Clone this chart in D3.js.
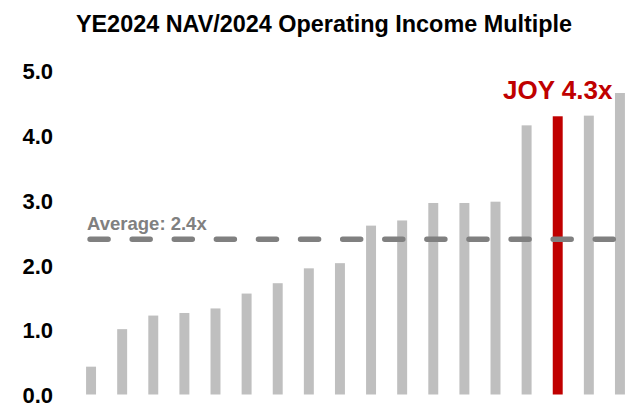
<!DOCTYPE html>
<html>
<head>
<meta charset="utf-8">
<script src="https://cdn.jsdelivr.net/npm/d3@7"></script>
<style>
  html, body { margin: 0; padding: 0; background: #fff; }
  svg { display: block; font-family: "Liberation Sans", Arial, sans-serif; }
</style>
</head>
<body>
<div id="chart"></div>
<script>
// Peer multiples, sorted ascending; JOY is the highlighted bar.
const CATEGORIES = [
  "Peer 1", "Peer 2", "Peer 3", "Peer 4", "Peer 5", "Peer 6", "Peer 7", "Peer 8", "Peer 9",
  "Peer 10", "Peer 11", "Peer 12", "Peer 13", "Peer 14", "Peer 15", "JOY", "Peer 16", "Peer 17",
];
const VALUES = [
  0.43, 1.01, 1.22, 1.26, 1.33, 1.56, 1.72, 1.95, 2.03,
  2.61, 2.69, 2.96, 2.96, 2.98, 4.16, 4.30, 4.31, 4.66,
];
const HIGHLIGHT = "JOY";
const AVERAGE   = 2.4;
const Y_TICKS   = [0, 1, 2, 3, 4, 5];

const W = 641, H = 411;

const data = CATEGORIES.map((c, i) => ({ name: c, value: VALUES[i] }));

const svg = d3.select("#chart").append("svg")
  .attr("width", W)
  .attr("height", H);

// ── Scales ────────────────────────────────────────────────────────────────

const x = d3.scaleBand()
  .domain(CATEGORIES)
  .range([75.5, 635.5])
  .paddingInner(0.68)
  .paddingOuter(0.34);

const y = d3.scaleLinear()
  .domain([0, 5])
  .range([394.5, 71]);

// ── Title ─────────────────────────────────────────────────────────────────

svg.append("text")
  .attr("x", 324)
  .attr("y", 32)
  .attr("text-anchor", "middle")
  .style("font-size", "23.4px")
  .style("font-weight", "bold")
  .style("fill", "#000")
  .text("YE2024 NAV/2024 Operating Income Multiple");

// ── Y axis (labels only) ──────────────────────────────────────────────────

svg.append("g")
  .attr("transform", "translate(53,0)")
  .call(d3.axisLeft(y).tickValues(Y_TICKS).tickSize(0).tickPadding(0)
    .tickFormat(d3.format(".1f")))
  .call(ax => ax.select(".domain").remove())
  .selectAll("text")
    .attr("dy", "0.36em")
    .style("font-family", "'Liberation Sans', Arial, sans-serif")
    .style("font-size", "22px")
    .style("font-weight", "bold")
    .style("fill", "#000");

// ── Bars ──────────────────────────────────────────────────────────────────

svg.append("g")
  .selectAll("rect")
  .data(data)
  .join("rect")
    .attr("x", d => x(d.name))
    .attr("y", d => y(d.value))
    .attr("width", x.bandwidth())
    .attr("height", d => y(0) - y(d.value))
    .attr("fill", d => d.name === HIGHLIGHT ? "#C00000" : "#BFBFBF");

// ── Average line ──────────────────────────────────────────────────────────

const xStart = x(CATEGORIES[0]) + 4;
const xEnd   = x(CATEGORIES[CATEGORIES.length - 1]) - 1.7;

svg.append("line")
  .attr("x1", xStart).attr("x2", xEnd)
  .attr("y1", y(AVERAGE)).attr("y2", y(AVERAGE))
  .attr("stroke", "#808080")
  .attr("stroke-width", 5.5)
  .attr("stroke-linecap", "round")
  .attr("stroke-dasharray", "18,24.1");

svg.append("text")
  .attr("x", x(CATEGORIES[0]) + 1)
  .attr("y", y(AVERAGE) - 9.5)
  .style("font-size", "18.5px")
  .style("font-weight", "bold")
  .style("fill", "#808080")
  .text(`Average: ${AVERAGE.toFixed(1)}x`);

// ── Highlight label ───────────────────────────────────────────────────────

const joy = data.find(d => d.name === HIGHLIGHT);

svg.append("text")
  .attr("x", x(joy.name) + x.bandwidth() / 2)
  .attr("y", y(joy.value) - 17)
  .attr("text-anchor", "middle")
  .style("font-size", "26px")
  .style("font-weight", "bold")
  .style("fill", "#C00000")
  .text(`${joy.name} ${joy.value.toFixed(1)}x`);
</script>
</body>
</html>
